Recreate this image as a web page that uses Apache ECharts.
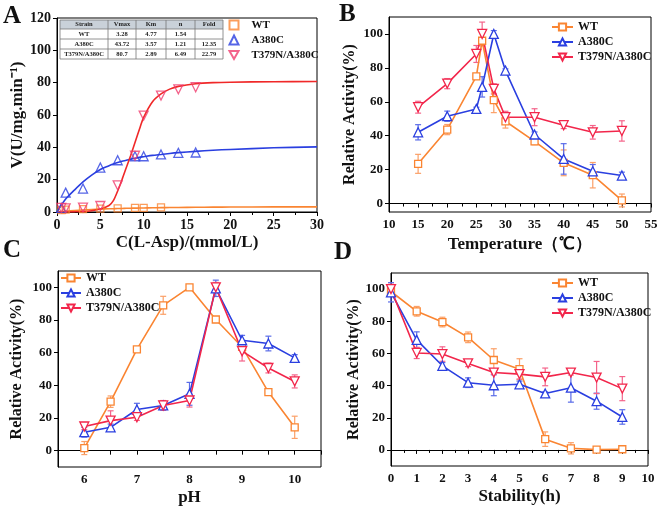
<!DOCTYPE html>
<html><head><meta charset="utf-8">
<script src="https://cdn.jsdelivr.net/npm/echarts@6/dist/echarts.min.js"></script>
<style>html,body{margin:0;padding:0;background:#fff}#c{width:661px;height:509px}</style>
</head><body><div id="c"></div>
<script>
// ---------- DATA ----------
const strains = ['WT', 'A380C', 'T379N/A380C'];
// Panel A: kinetics points
const aX_WT = [0.5, 1, 3, 5, 7, 9, 10, 12];
const aY_WT = [1.2, 1.5, 1.8, 2.1, 2.3, 2.5, 2.6, 2.9];
const aX_A = [0.5, 1, 3, 5, 7, 9, 10, 12, 14, 16];
const aY_A = [2.5, 12, 14.5, 27.5, 32, 34.5, 34.5, 35.6, 36.6, 36.8];
const aX_T = [0.5, 1, 3, 5, 7, 9, 10, 12, 14, 16];
const aY_T = [2.5, 2.3, 2.7, 3.7, 16.5, 34.8, 59.6, 72, 75.9, 77.2];
// Panel A: fitted curves
const aFitX = [0, 1, 2, 3, 4, 5, 6, 6.5, 7, 7.5, 8, 8.5, 9, 9.5, 10, 11, 12, 13, 14, 16, 18, 20, 25, 30];
const aFit_WT = [0, 0.5, 0.9, 1.25, 1.55, 1.8, 2.0, 2.05, 2.15, 2.2, 2.3, 2.35, 2.4, 2.45, 2.5, 2.6, 2.7, 2.75, 2.8, 2.9, 3.0, 3.05, 3.15, 3.2];
const aFit_A = [0, 8, 13.5, 18.6, 22.8, 26.3, 28.6, 29.7, 30.6, 31.4, 32, 32.7, 33.3, 33.8, 34.2, 35, 35.6, 36.2, 36.7, 37.5, 38.2, 38.7, 39.7, 40.3];
const aFit_T = [0, 0, 0.1, 0.3, 0.8, 1.8, 4, 7, 13, 20, 27.5, 35, 43, 51, 58.5, 68, 73, 76, 77.7, 79.3, 80, 80.3, 80.6, 80.7];
// Panel A table
const tableHeader = ['Strain', 'Vmax', 'Km', 'n', 'Fold'];
const tableRows = [
  ['WT', '3.28', '4.77', '1.54', ''],
  ['A380C', '43.72', '3.57', '1.21', '12.35'],
  ['T379N/A380C', '80.7', '2.89', '6.49', '22.79']
];
// Panel B: temperature
const bX = [15, 20, 25, 26, 28, 30, 35, 40, 45, 50];
const bWT = [23.4, 43.6, 75, 96, 61, 48.5, 36.7, 24, 16.7, 1.8];
const bWTe = [5.6, 3, 1.5, 0, 7.4, 4, 2, 7.6, 7.5, 3.8];
const bA = [42, 51.5, 55.8, 68.8, 100, 78.4, 40.7, 26.3, 19, 16.5];
const bAe = [4.5, 3, 1, 6, 2, 1, 1.5, 9, 4, 2];
const bT = [56.8, 70.7, 88.2, 100, 67.6, 50.9, 50.9, 46.2, 42, 42.8];
const bTe = [3.5, 3, 5, 7, 3, 3.5, 5, 2, 4, 6];
// Panel C: pH
const cX = [6, 6.5, 7, 7.5, 8, 8.5, 9, 9.5, 10];
const cWT = [1.6, 30, 62, 89, 100, 80.3, 63.5, 35.9, 14.3];
const cWTe = [4, 3.5, 1.5, 5.5, 1.5, 1, 2, 2, 6.8];
const cA = [11.3, 14.3, 25.2, 27.7, 34.8, 99.4, 67.6, 65.6, 56.8];
const cAe = [3, 2, 3.8, 2, 7, 5, 3, 4.5, 2];
const cT = [14.8, 18.4, 20.5, 27.7, 30.7, 100, 60.9, 50.6, 42.4];
const cTe = [2, 6, 2, 3, 4, 3, 6, 3, 4];
// Panel D: stability
const dX = [0, 1, 2, 3, 4, 5, 6, 7, 8, 9];
const dWT = [98.5, 86.2, 79.5, 70, 55.9, 50.2, 6.7, 1, 0.2, 0.4];
const dWTe = [2, 3, 3, 3.3, 7, 6.5, 4.5, 3.5, 0, 0];
const dA = [98, 68.4, 52.3, 41.8, 40.2, 40.8, 35.1, 38.7, 30.3, 20.5];
const dAe = [6, 5, 2, 3, 6.5, 2, 1, 9, 5, 4.5];
const dT = [100, 60.3, 59.6, 53.8, 48.1, 47.1, 45.4, 48.1, 45, 38.1];
const dTe = [3, 3.5, 4.5, 2, 1, 3, 5.5, 1.5, 10, 7.5];
// Tick labels
const actTicks = [0, 20, 40, 60, 80, 100];
const pHLabels = [6, 7, 8, 9, 10];
const pHTicks = [5.5, 6, 6.5, 7, 7.5, 8, 8.5, 9, 9.5, 10, 10.5];

// ---------- STYLE ----------
const F = 'Liberation Serif';
const COL = ['#FA8532', '#2A3FE0', '#F2264B'];
const ECOL = ['#FBA068', '#5A6CE8', '#F4648A'];
const SYM = ['rect', 'triangle', 'path://M0,0L2,0L1,1.732Z'];
const SYMSIZE = [7, 9, 9];

const zip = (x, y) => x.map((v, i) => [v, y[i]]);
const zip3 = (x, y, e) => x.map((v, i) => [v, y[i], e[i]]).filter(d => d[2] > 0);

function errRender(params, api) {
  const x = api.value(0), y = api.value(1), e = api.value(2);
  const lo = api.coord([x, y - e]), hi = api.coord([x, y + e]);
  const w = 3, st = { stroke: api.visual('color'), lineWidth: 1.2 };
  return { type: 'group', children: [
    { type: 'line', shape: { x1: lo[0], y1: lo[1], x2: hi[0], y2: hi[1] }, style: st },
    { type: 'line', shape: { x1: hi[0] - w, y1: hi[1], x2: hi[0] + w, y2: hi[1] }, style: st },
    { type: 'line', shape: { x1: lo[0] - w, y1: lo[1], x2: lo[0] + w, y2: lo[1] }, style: st }
  ]};
}

const series = [];
function addLinePanel(idx, tag, x, ys, es) {
  ys.forEach((y, k) => {
    series.push({
      type: 'custom', xAxisIndex: idx, yAxisIndex: idx, renderItem: errRender,
      itemStyle: { color: ECOL[k] }, data: zip3(x, y, es[k]), encode: { x: 0, y: 1 }, z: 3, silent: true
    });
    series.push({
      type: 'line', name: strains[k] + '|' + tag, xAxisIndex: idx, yAxisIndex: idx,
      data: zip(x, y), symbol: SYM[k], symbolSize: SYMSIZE[k],
      itemStyle: { color: '#fff', borderColor: COL[k], borderWidth: 1.3 },
      lineStyle: { color: COL[k], width: 1.6 }, z: 4, animation: false
    });
  });
}
// Panel A
[[aFit_WT], [aFit_A], [aFit_T]].forEach((f, k) => {
  series.push({
    type: 'line', xAxisIndex: 0, yAxisIndex: 0, data: zip(aFitX, f[0]), smooth: 0.3,
    showSymbol: false, lineStyle: { color: k === 2 ? '#F02828' : COL[k], width: 1.6 }, z: 2, silent: true
  });
});
[[aX_WT, aY_WT], [aX_A, aY_A], [aX_T, aY_T]].forEach((p, k) => {
  series.push({
    type: 'scatter', name: strains[k] + '|A', xAxisIndex: 0, yAxisIndex: 0, data: zip(p[0], p[1]),
    symbol: SYM[k], symbolSize: SYMSIZE[k],
    itemStyle: { color: 'rgba(255,255,255,0)', borderColor: k === 2 ? '#F03C6E' : COL[k], borderWidth: 1.3 }, z: 3
  });
});
addLinePanel(1, 'B', bX, [bWT, bA, bT], [bWTe, bAe, bTe]);
addLinePanel(2, 'C', cX, [cWT, cA, cT], [cWTe, cAe, cTe]);
addLinePanel(3, 'D', dX, [dWT, dA, dT], [dWTe, dAe, dTe]);

const lab = (fs) => ({ fontFamily: F, fontWeight: 'bold', fontSize: fs, color: '#111', margin: 6 });
const axLine = { lineStyle: { color: '#000', width: 1 } };
const tick = { length: 4, lineStyle: { color: '#000' } };
const nameSt = (fs) => ({ fontFamily: F, fontWeight: 'bold', fontSize: fs, color: '#111' });

function xAx(i, min, max, interval, name, gap, extra) {
  return Object.assign({
    type: 'value', gridIndex: i, min, max, interval, name, nameLocation: 'middle', nameGap: gap,
    nameTextStyle: nameSt(17), axisLine: axLine, axisTick: tick, splitLine: { show: false },
    minorTick: { show: true, splitNumber: 2, length: 3, lineStyle: { color: '#000' } },
    axisLabel: lab(i === 0 ? 14 : 13)
  }, extra || {});
}
function yAx(i, min, max, name, gap, fs, extra) {
  return Object.assign({
    type: 'value', gridIndex: i, min, max, name, nameLocation: 'middle', nameGap: gap,
    nameTextStyle: nameSt(fs), axisLine: axLine, splitLine: { show: false }
  }, extra);
}

const legendBase = (tag, left, top, w, fs, pad) => ({
  data: strains.map(s => s + '|' + tag), orient: 'vertical', left, top,
  itemWidth: w, itemHeight: 9, itemGap: 0, formatter: n => n.split('|')[0],
  textStyle: { fontFamily: F, fontWeight: 'bold', fontSize: fs, color: '#111', lineHeight: 15, padding: [0, 0, 0, pad || 0] },
  selectedMode: false
});

// table graphic
const colX = [60, 108, 136, 166, 195, 223];
const rowY = [20, 29, 39, 49, 59];
const tableG = [];
tableG.push({ type: 'rect', shape: { x: colX[0], y: rowY[0], width: colX[5] - colX[0], height: rowY[1] - rowY[0] }, style: { fill: '#C9D1D9' } });
for (let r = 0; r < rowY.length; r++) tableG.push({ type: 'line', shape: { x1: colX[0], y1: rowY[r], x2: colX[5], y2: rowY[r] }, style: { stroke: '#777', lineWidth: 0.8 } });
for (let c = 0; c < colX.length; c++) tableG.push({ type: 'line', shape: { x1: colX[c], y1: rowY[0], x2: colX[c], y2: rowY[4] }, style: { stroke: '#777', lineWidth: 0.8 } });
[tableHeader].concat(tableRows).forEach((row, r) => {
  row.forEach((t, c) => {
    tableG.push({ type: 'text', x: (colX[c] + colX[c + 1]) / 2, y: (rowY[r] + rowY[r + 1]) / 2,
      style: { text: t, fontFamily: F, fontWeight: 'bold', fontSize: 6.5, fill: '#222', align: 'center', verticalAlign: 'middle' } });
  });
});
const letter = (t, x, y) => ({ type: 'text', x, y, style: { text: t, fontFamily: F, fontWeight: 'bold', fontSize: 25, fill: '#111' } });

const option = {
  animation: false,
  textStyle: { fontFamily: F },
  grid: [
    { left: 57, right: 344, top: 18, bottom: 297, show: true, borderColor: '#000', borderWidth: 1 },
    { left: 389, right: 10, top: 17, bottom: 297, show: true, borderColor: '#000', borderWidth: 1 },
    { left: 58, right: 340, top: 271, bottom: 42, show: true, borderColor: '#000', borderWidth: 1 },
    { left: 391, right: 13, top: 273, bottom: 43, show: true, borderColor: '#000', borderWidth: 1 }
  ],
  xAxis: [
    xAx(0, 0, 30, 5, 'C(L-Asp)/(mmol/L)', 22),
    xAx(1, 10, 55, 5, 'Temperature（℃）', 24),
    xAx(2, 5.5, 10.5, 0.5, 'pH', 22, {
      axisLabel: Object.assign(lab(13), { customValues: pHLabels }),
      axisTick: Object.assign({}, tick, { customValues: pHTicks }), minorTick: { show: false }
    }),
    xAx(3, 0, 10, 1, 'Stability(h)', 22)
  ],
  yAxis: [
    yAx(0, 0, 120, 'V(U/mg.min⁻¹)', 30, 17, { interval: 20, axisTick: tick, axisLabel: lab(14) }),
    yAx(1, -5, 110, 'Relative Activity(%)', 31, 16, {
      axisTick: Object.assign({}, tick, { customValues: actTicks }),
      axisLabel: Object.assign(lab(13), { customValues: actTicks })
    }),
    yAx(2, -10, 110, 'Relative Activity(%)', 33, 16, {
      axisTick: Object.assign({}, tick, { customValues: actTicks }),
      axisLabel: Object.assign(lab(13), { customValues: actTicks })
    }),
    yAx(3, -10, 110, 'Relative Activity(%)', 29, 16, {
      axisTick: Object.assign({}, tick, { customValues: actTicks }),
      axisLabel: Object.assign(lab(13), { customValues: actTicks })
    })
  ],
  legend: [
    legendBase('A', 223.5, 12.5, 9, 11, 8),
    legendBase('B', 546, 14.5, 21, 12),
    legendBase('C', 55, 265.5, 20, 12),
    legendBase('D', 546, 270.5, 21, 12)
  ],
  graphic: [
    { type: 'group', children: tableG },
    letter('A', 3, 4), letter('B', 339, 2), letter('C', 3, 238), letter('D', 334, 240)
  ],
  series
};
echarts.init(document.getElementById('c'), null, { renderer: 'canvas' }).setOption(option);
</script></body></html>
